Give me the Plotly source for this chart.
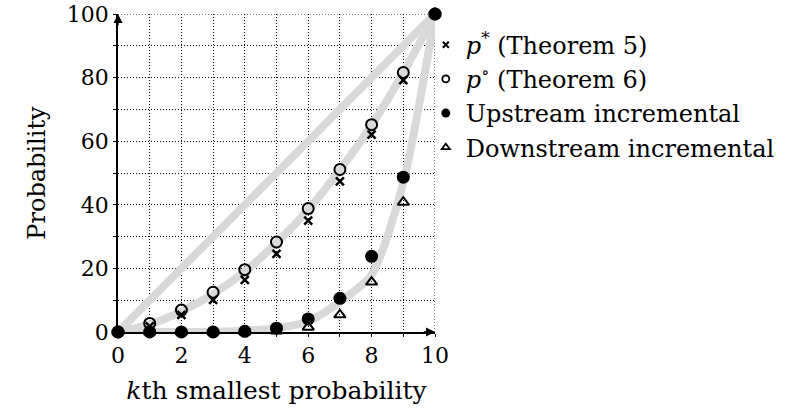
import plotly.graph_objects as go

# ---- data ----
k = [0, 1, 2, 3, 4, 5, 6, 7, 8, 9, 10]
p_star = [0, 1.8, 5.4, 10.1, 16.4, 24.6, 35.0, 47.4, 62.1, 79.2, 100]
p_circ = [0, 2.7, 6.9, 12.5, 19.6, 28.3, 38.8, 51.1, 65.2, 81.6, 100]
upstream = [0, 0, 0, 0, 0.2, 1.2, 4.1, 10.6, 23.8, 48.7, 100]
downstream = [0, 0, 0, 0, 0, 0.3, 1.5, 5.4, 15.7, 40.8, 100]
curve_linear = [0, 10, 20, 30, 40, 50, 60, 70, 80, 90, 100]
curve_mid = [0, 2.4, 6.5, 12.0, 19.0, 28.0, 38.5, 51.0, 65.0, 81.5, 100]
curve_low = [0, 0, 0, 0.1, 0.4, 1.2, 3.3, 9.5, 18.0, 47.0, 100]

x_ticks = [0, 2, 4, 6, 8, 10]
y_ticks = [0, 20, 40, 60, 80, 100]

FONT = "DejaVu Serif"
FS_TICK = 22
FS_TEXT = 24
GRAY = "#d9d9d9"
DOT = "1px,2px"

fig = go.Figure()

for c in (curve_linear, curve_mid, curve_low):
    fig.add_trace(go.Scatter(x=k, y=c, mode="lines", showlegend=False,
                             line=dict(color=GRAY, width=8, shape="spline", smoothing=0.7),
                             hoverinfo="skip", cliponaxis=False))

fig.add_trace(go.Scatter(x=k, y=downstream, mode="markers", showlegend=False,
                         marker=dict(symbol="triangle-up-open", size=10, color="black",
                                     line=dict(width=2, color="black")), cliponaxis=False))
fig.add_trace(go.Scatter(x=k, y=p_star, mode="markers", showlegend=False,
                         marker=dict(symbol="x-thin-open", size=8, color="black",
                                     line=dict(width=2.5, color="black")), cliponaxis=False))
fig.add_trace(go.Scatter(x=k, y=p_circ, mode="markers", showlegend=False,
                         marker=dict(symbol="circle-open", size=11, color="black",
                                     line=dict(width=2, color="black")), cliponaxis=False))
fig.add_trace(go.Scatter(x=k, y=upstream, mode="markers", showlegend=False,
                         marker=dict(symbol="circle", size=13, color="black"), cliponaxis=False))

# legend-only entries with small symbols
legend_items = [
    ("<i>p</i><sup>*</sup> (Theorem 5)", dict(symbol="x-thin-open", size=6, color="black", line=dict(width=2, color="black"))),
    ("<i>p</i><sup>∘</sup> (Theorem 6)", dict(symbol="circle-open", size=7, color="black", line=dict(width=1.8, color="black"))),
    ("Upstream incremental", dict(symbol="circle", size=9, color="black")),
    ("Downstream incremental", dict(symbol="triangle-up-open", size=7, color="black", line=dict(width=1.8, color="black"))),
]
for name, mk in legend_items:
    fig.add_trace(go.Scatter(x=[None], y=[None], mode="markers", name=name, marker=mk))

axis_common = dict(showline=True, linecolor="black", linewidth=1.5,
                   showgrid=True, gridcolor="black", gridwidth=1, griddash=DOT,
                   zeroline=False, ticks="outside", ticklen=3, tickcolor="black",
                   ticklabeloverflow="allow", automargin=False,
                   tickfont=dict(family=FONT, size=FS_TICK, color="black"))

fig.update_xaxes(range=[0, 10], tickvals=x_ticks, ticktext=[str(v) for v in x_ticks],
                 minor=dict(dtick=1, tick0=0, showgrid=True, gridcolor="black", griddash=DOT,
                            gridwidth=1, ticks="outside", ticklen=3, tickcolor="black"),
                 title=dict(text="<i>k</i>th smallest probability", standoff=14,
                            font=dict(family=FONT, size=25, color="black")),
                 **axis_common)
fig.update_yaxes(range=[0, 100], tickvals=y_ticks, ticktext=[str(v) for v in y_ticks],
                 minor=dict(dtick=10, tick0=0, showgrid=True, gridcolor="black", griddash=DOT,
                            gridwidth=1, ticks="outside", ticklen=3, tickcolor="black"),
                 title=dict(text="Probability", standoff=14,
                            font=dict(family=FONT, size=FS_TEXT, color="black")),
                 **axis_common)

# border grid lines at the top and right edges
fig.add_shape(type="line", xref="x", yref="y", x0=0, x1=10, y0=100, y1=100,
              line=dict(color="black", width=1, dash=DOT), layer="below")
fig.add_shape(type="line", xref="x", yref="y", x0=10, x1=10, y0=0, y1=100,
              line=dict(color="black", width=1, dash=DOT), layer="below")

# arrowheads
fig.add_annotation(x=10, y=0, ax=9.6, ay=0, xref="x", yref="y", axref="x", ayref="y",
                   text="", showarrow=True, arrowhead=2, arrowsize=1.2, arrowwidth=1.5, arrowcolor="black")
fig.add_annotation(x=0, y=100, ax=0, ay=96, xref="x", yref="y", axref="x", ayref="y",
                   text="", showarrow=True, arrowhead=2, arrowsize=1.2, arrowwidth=1.5, arrowcolor="black")

fig.update_layout(
    width=789, height=412,
    margin=dict(l=118, r=354, t=14, b=80, autoexpand=False),
    plot_bgcolor="white", paper_bgcolor="white",
    font=dict(family=FONT, size=FS_TEXT, color="black"),
    legend=dict(x=0.971, y=0.973, xanchor="left", yanchor="top", bgcolor="rgba(0,0,0,0)",
                font=dict(family=FONT, size=FS_TEXT, color="black"), itemwidth=30,
                tracegroupgap=0),
)

fig.write_html("out.html", config={"displayModeBar": False},
               post_script="document.body.style.margin='0';document.body.style.overflow='hidden';")
